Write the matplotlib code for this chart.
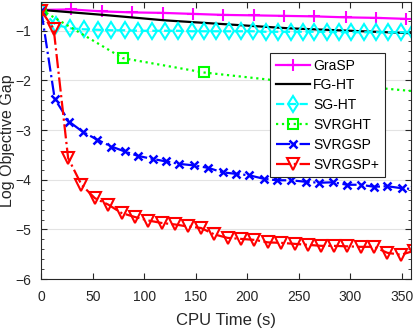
import matplotlib
matplotlib.use("Agg")
import matplotlib.pyplot as plt
from matplotlib.ticker import MultipleLocator

plt.rcParams["font.family"] = ["Liberation Sans", "DejaVu Sans"]

# GraSP
grasp_x = [0, 29, 59, 88, 118, 147, 176, 207, 236, 265, 296, 325, 354]
grasp_y = [-0.58, -0.57, -0.61, -0.63, -0.64, -0.66, -0.68, -0.69, -0.70, -0.71, -0.73, -0.74, -0.76]

# FG-HT
fght_x = [0, 60, 120, 180, 240, 300, 360]
fght_y = [-0.58, -0.68, -0.79, -0.87, -0.95, -1.00, -1.05]

# SG-HT
sght_x = [0, 14, 28, 41, 55, 68, 81, 94, 107, 120, 133, 146, 158, 170, 182, 194,
          206, 218, 230, 242, 254, 265, 277, 289, 301, 313, 325, 337, 349, 361]
sght_y = [-0.58, -0.88, -0.95, -0.97, -0.98, -0.99, -0.99, -1.0, -1.0, -1.0, -1.0,
          -1.01, -1.01, -1.01, -1.01, -1.01, -1.01, -1.02, -1.02, -1.02, -1.02,
          -1.02, -1.02, -1.03, -1.03, -1.03, -1.03, -1.03, -1.03, -1.03]

# SVRGHT
svrght_x = [0, 79, 158, 237, 316, 395]
svrght_y = [-0.58, -1.55, -1.84, -2.02, -2.13, -2.28]

# SVRGSP
svrgsp_x = [0, 13, 27, 40, 54, 68, 81, 94, 108, 121, 134, 148, 162, 176, 189,
            202, 216, 229, 242, 257, 270, 283, 297, 310, 323, 336, 350, 363]
svrgsp_y = [-0.6, -2.37, -2.83, -3.03, -3.19, -3.33, -3.43, -3.52, -3.58, -3.63,
            -3.68, -3.71, -3.76, -3.85, -3.88, -3.91, -3.98, -4.01, -4.01, -4.04,
            -4.06, -4.05, -4.10, -4.10, -4.14, -4.13, -4.17, -4.19]

# SVRGSP+
svrgspp_x = [0, 12, 26, 39, 52, 65, 78, 91, 104, 117, 130, 142, 155, 168, 181,
             194, 207, 220, 233, 246, 259, 272, 284, 297, 310, 323, 336, 349, 362]
svrgspp_y = [-0.6, -0.96, -3.56, -4.10, -4.37, -4.50, -4.67, -4.75, -4.82, -4.87,
             -4.90, -4.94, -4.97, -5.10, -5.17, -5.19, -5.21, -5.26, -5.27, -5.29,
             -5.31, -5.33, -5.33, -5.34, -5.35, -5.35, -5.47, -5.51, -5.43]

fig = plt.figure(figsize=(4.19, 3.28), dpi=100)
ax = fig.add_axes([0.0986, 0.149, 0.8824, 0.845])

lw = 1.6
ax.plot(grasp_x, grasp_y, "-", color=(1, 0, 1), lw=lw, marker="+", ms=8, mew=1.5, label="GraSP")
ax.plot(fght_x, fght_y, "-", color="black", lw=lw, label="FG-HT")
ax.plot(sght_x, sght_y, "--", color=(0, 1, 1), lw=lw, marker="d", ms=8.5, mew=1.5,
        mfc="none", label="SG-HT")
ax.plot(svrght_x, svrght_y, ":", color=(0, 1, 0), lw=lw, marker="s", ms=7, mew=1.5,
        mfc="none", label="SVRGHT")
ax.plot(svrgsp_x, svrgsp_y, "-.", color=(0, 0, 1), lw=lw, marker="x", ms=6, mew=1.8,
        label="SVRGSP")
ax.plot(svrgspp_x, svrgspp_y, "-.", color=(1, 0, 0), lw=lw, marker="v", ms=9, mew=1.5,
        mfc="none", label="SVRGSP+")

ax.set_xlim(0, 359)
ax.set_ylim(-6, -0.42)
ax.set_xticks([0, 50, 100, 150, 200, 250, 300, 350])
ax.set_yticks([-6, -5, -4, -3, -2, -1])
ax.yaxis.set_minor_locator(MultipleLocator(0.2))
ax.yaxis.grid(True, color="#e3e3e3", lw=0.8)
ax.set_axisbelow(True)

gray = "#262626"
for s in ax.spines.values():
    s.set_color(gray)
    s.set_linewidth(0.8)
ax.tick_params(which="both", direction="in", top=True, right=True, colors=gray,
               labelcolor=gray, labelsize=10)
ax.tick_params(which="major", length=4)
ax.tick_params(which="minor", length=2.5)
ax.tick_params(axis="x", pad=8)
ax.tick_params(axis="y", pad=7)

ax.set_xlabel("CPU Time (s)", fontsize=12, color=gray, labelpad=6)
ax.set_ylabel("Log Objective Gap", fontsize=11.5, color=gray, labelpad=0.5)

leg = ax.legend(loc="upper left", bbox_to_anchor=(0.619, 0.816), fontsize=10,
                handlelength=2.5, handletextpad=0.2, borderpad=0.4, labelspacing=0.42,
                fancybox=False, framealpha=1, borderaxespad=0)
leg.get_frame().set_edgecolor(gray)
leg.get_frame().set_linewidth(0.8)

fig.savefig("out.png", dpi=100)
